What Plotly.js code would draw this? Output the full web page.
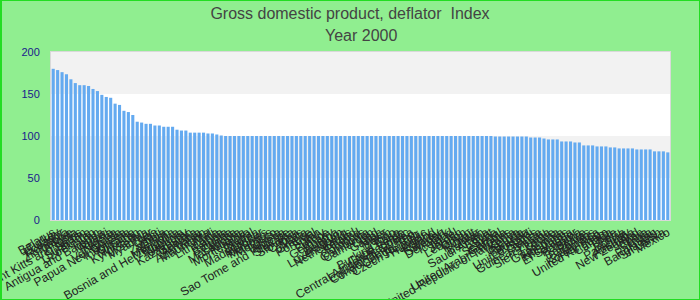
<!DOCTYPE html>
<html>
<head>
<meta charset="utf-8">
<script src="https://cdn.plot.ly/plotly-3.0.1.min.js"></script>
<style>
html,body{margin:0;padding:0;background:#90EE90;}
#wrap{position:relative;width:700px;height:300px;}
#chart{width:700px;height:300px;}
#frame{position:absolute;left:0;top:0;width:700px;height:300px;box-sizing:border-box;border:1px solid #22dd22;border-left-width:2px;pointer-events:none;}
</style>
</head>
<body>
<div id="wrap"><div id="chart"></div><div id="frame"></div></div>
<script>
var chartTitle = 'Gross domestic product, deflator\u00a0 Index';
var chartSubtitle = 'Year 2000';

var countries = [
  'Belarus','Turkey','Ecuador','Romania','Zimbabwe','Angola','Saint Kitts and Nevis','Sudan','Suriname','Uzbekistan',
  'Iran','Antigua and Barbuda','Malawi','Russia','Nigeria','Venezuela','Papua New Guinea','Indonesia','Ukraine','Tajikistan',
  'Kyrgyzstan','Serbia','Myanmar','Laos','Haiti','Zambia','Yemen','Mongolia','Bosnia and Herzegovina','Moldova',
  'Uruguay','Kazakhstan','Georgia','Armenia','Azerbaijan','Mauritania','Mali','Lithuania','Latvia','Estonia',
  'Bulgaria','Croatia','Macedonia','Albania','Montenegro','Nepal','Bhutan','Madagascar','Maldives','Mauritius',
  'Morocco','Tunisia','Algeria','Sao Tome and Principe','Slovakia','Slovenia','Cyprus','Malta','Greece','Portugal',
  'Spain','Italy','France','Germany','Austria','Belgium','Luxembourg','Netherlands','Ireland','Finland',
  'Comoros','Cambodia','Cameroon','Chad','Gabon','Niger','Benin','Togo','Burkina Faso','Cape Verde',
  'Central African Republic','Equatorial Guinea','Congo, Dem. Rep.','Congo, Rep.','Czech Republic','Hungary','Poland','Norway','Sweden','Denmark',
  'Iceland','Israel','Jordan','Lebanon','Oman','Kuwait','Qatar','Bahrain','Saudi Arabia','Egypt',
  'Syria','Senegal','Gambia','United Arab Emirates','United Republic of Tanzania','Kenya','Uganda','Rwanda','Burundi','United States',
  'Guinea','Guinea-Bissau','Liberia','Sierra Leone','Ghana','Guatemala','Honduras','Nicaragua','El Salvador','Panama',
  'Belize','Bahamas','Barbados','Jamaica','Korea, Rep.','United Kingdom','Canada','Chile','Peru','Bolivia',
  'Paraguay','Australia','New Zealand','Japan','China','India','Pakistan','Bangladesh','Sri Lanka','Mexico'
];

var deflator = [
  180, 178.5, 176, 173.5, 167.5, 163, 160.5, 160.5, 159.5, 156,
  153.5, 149, 146.5, 145.5, 138.5, 137, 130, 128.5, 125, 117,
  116, 114.5, 114.5, 112.5, 112.5, 111, 111, 111, 107.5, 106.5,
  106.5, 104, 104, 104, 104, 103, 103, 101.8, 100.6, 100,
  100, 100, 100, 100, 100, 100, 100, 100, 100, 100,
  100, 100, 100, 100, 100, 100, 100, 100, 100, 100,
  100, 100, 100, 100, 100, 100, 100, 100, 100, 100,
  100, 100, 100, 100, 100, 100, 100, 100, 100, 100,
  100, 100, 100, 100, 100, 100, 100, 100, 100, 100,
  100, 100, 100, 100, 100, 100, 100, 100, 100, 100,
  99.4, 99.4, 99.4, 99.4, 99.4, 99.4, 99.4, 99.4, 98.2, 98.2,
  98.2, 97, 95.9, 95.9, 95.9, 93.5, 93.5, 93.5, 92.3, 92.3,
  88.8, 88.8, 88.8, 87.6, 87.6, 87.6, 86.4, 86.4, 85.2, 85.2,
  85.2, 85.2, 84, 84, 84, 84, 81.7, 81.7, 81.7, 80.5
];

var yTicks = [0, 50, 100, 150, 200];
var bandRanges = [[50, 100], [150, 200]];

var shapes = bandRanges.map(function (b) {
  return {type: 'rect', xref: 'paper', yref: 'y', x0: 0, x1: 1, y0: b[0], y1: b[1],
          fillcolor: '#f2f2f2', line: {width: 0}, layer: 'below'};
});

var trace = {
  type: 'bar',
  x: countries,
  y: deflator,
  marker: {color: '#64aaf0'},
  hoverinfo: 'x+y'
};

var H = 300, T = 52, B = 80;
var plotH = H - T - B;

var layout = {
  width: 700, height: H,
  margin: {l: 51, r: 30, t: T, b: B},
  paper_bgcolor: '#90EE90',
  plot_bgcolor: '#ffffff',
  font: {family: '"Liberation Sans", Arial, sans-serif'},
  title: {
    text: chartTitle,
    font: {size: 16, color: '#444444', family: '"Liberation Sans", Arial, sans-serif'},
    x: 0.5, xanchor: 'center', yref: 'container', y: 1 - 13 / H, yanchor: 'middle'
  },
  annotations: [{
    text: chartSubtitle, showarrow: false,
    xref: 'paper', yref: 'paper', x: 0.5, xanchor: 'center',
    y: 1 + (T - 36) / plotH, yanchor: 'middle',
    font: {size: 16, color: '#444444', family: '"Liberation Sans", Arial, sans-serif'}
  }],
  bargap: 0.3,
  showlegend: false,
  xaxis: {
    type: 'category',
    tickmode: 'array', tickvals: countries, ticktext: countries,
    tickangle: -30,
    tickfont: {size: 12, color: '#222222'},
    showgrid: false, zeroline: false,
    showline: true, mirror: true, linecolor: '#d9d9d9', linewidth: 1,
    ticks: '', fixedrange: true
  },
  yaxis: {
    range: [0, 200],
    tickmode: 'array', tickvals: yTicks,
    tickfont: {size: 11, color: '#1a1a8c'},
    showgrid: false, zeroline: false,
    showline: true, mirror: true, linecolor: '#d9d9d9', linewidth: 1,
    ticks: 'outside', ticklen: 8, tickcolor: 'rgba(0,0,0,0)', fixedrange: true
  },
  shapes: shapes
};

Plotly.newPlot('chart', [trace], layout, {displayModeBar: false});
</script>
</body>
</html>
